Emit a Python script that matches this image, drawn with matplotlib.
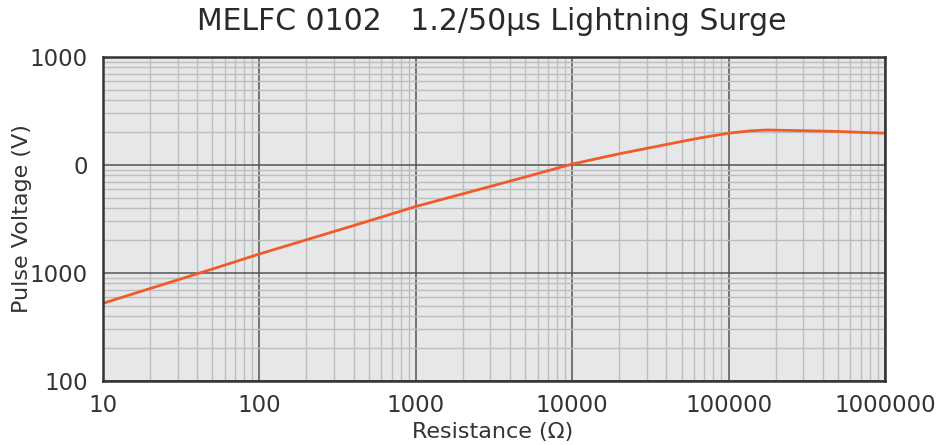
import matplotlib
matplotlib.use("Agg")
import matplotlib.pyplot as plt
from matplotlib.ticker import FixedLocator, LogLocator, NullFormatter

# Data
resistance = [10, 20, 50, 100, 200, 500, 1000, 2000, 5000,
              10000, 20000, 50000, 65600, 100000, 137000, 176000, 466000, 1000000]
voltage = [524, 718, 1087, 1500, 2030, 3030, 4130, 5410, 7740,
           10200, 12700, 16500, 17800, 19700, 20700, 21100, 20500, 19700]

x_ticks = [10, 100, 1000, 10000, 100000, 1000000]
x_tick_labels = ["10", "100", "1000", "10000", "100000", "1000000"]
y_ticks = [100, 1000, 10000, 100000]
y_tick_labels = ["100", "1000", "0", "1000"]

title = "MELFC 0102   1.2/50\u00b5s Lightning Surge"
x_label = "Resistance (\u03a9)"
y_label = "Pulse Voltage (V)"

plt.rcParams['font.family'] = ['DejaVu Sans']
text_color = "#333333"

fig = plt.figure(figsize=(9.42, 4.45), dpi=100)
ax = fig.add_axes([103/942, 1-381/445, (885-103)/942, (381-57)/445])
ax.set_facecolor("#e6e7e9")
ax.set_xscale("log")
ax.set_yscale("log")
ax.set_xlim(10, 1000000)
ax.set_ylim(100, 100000)

ax.xaxis.set_major_locator(FixedLocator(x_ticks))
ax.set_xticklabels(x_tick_labels)
ax.yaxis.set_major_locator(FixedLocator(y_ticks))
ax.set_yticklabels(y_tick_labels)
ax.xaxis.set_minor_locator(LogLocator(base=10, subs=range(2, 10), numticks=20))
ax.yaxis.set_minor_locator(LogLocator(base=10, subs=range(2, 10), numticks=20))
ax.xaxis.set_minor_formatter(NullFormatter())
ax.yaxis.set_minor_formatter(NullFormatter())

ax.grid(which="minor", color="#bdbdbf", linewidth=1.0)
ax.grid(which="major", color="#545454", linewidth=1.1)
ax.set_axisbelow(True)

ax.tick_params(which="both", length=0)
ax.tick_params(axis="x", pad=9, labelsize=16.5, colors=text_color)
ax.tick_params(axis="y", pad=11, labelsize=16.5, colors=text_color)

for s in ax.spines.values():
    s.set_color("#333333")
    s.set_linewidth(1.8)

ax.plot(resistance, voltage, color="#f15a29", linewidth=2.0, solid_capstyle="butt")

ax.set_xlabel(x_label, fontsize=16, color=text_color)
ax.set_ylabel(y_label, fontsize=16, color=text_color)
ax.xaxis.set_label_coords(0.498, -(432 - 381) / 324, transform=ax.transAxes)
ax.yaxis.set_label_coords((22 - 103) / 782, 0.5, transform=ax.transAxes)
ax.xaxis.label.set_va("center")
ax.yaxis.label.set_va("center")
fig.text((178 + 805) / 2 / 942, 1 - 22 / 445, title, fontsize=21.5, color="#2a2a2a",
         ha="center", va="center", fontweight="normal")

fig.savefig("out.png", dpi=100)
